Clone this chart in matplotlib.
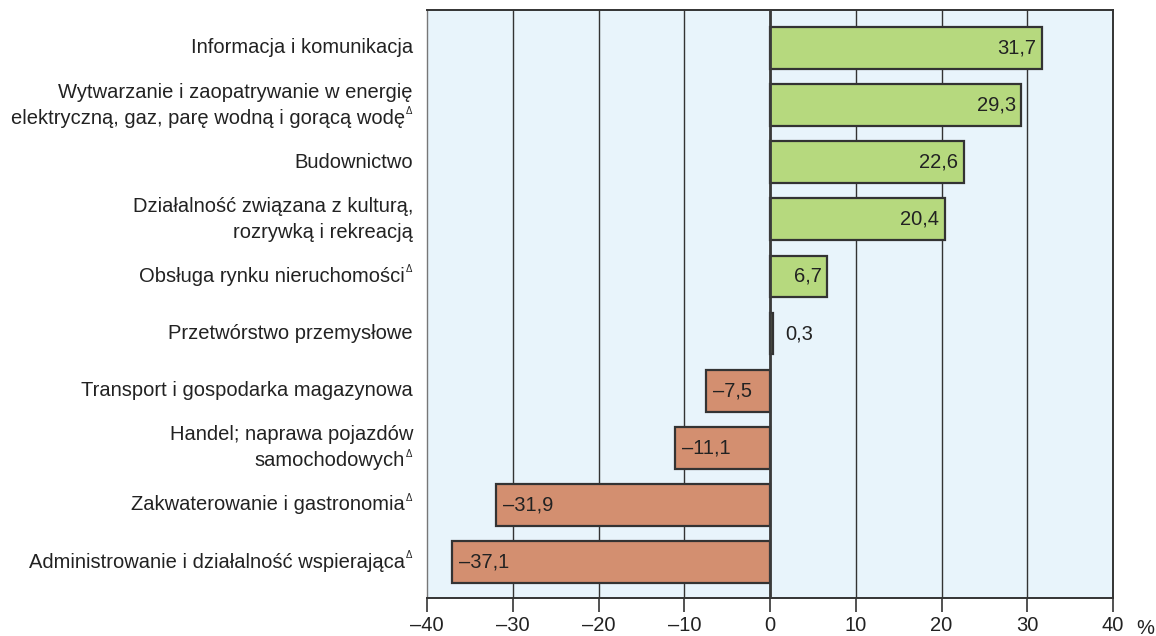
import matplotlib
matplotlib.use("Agg")
import matplotlib.pyplot as plt
from matplotlib.transforms import offset_copy

plt.rcParams['font.family'] = ['Liberation Sans', 'DejaVu Sans']

categories = [
    "Informacja i komunikacja",
    "Wytwarzanie i zaopatrywanie w energię\nelektryczną, gaz, parę wodną i gorącą wodę",
    "Budownictwo",
    "Działalność związana z kulturą,\nrozrywką i rekreacją",
    "Obsługa rynku nieruchomości",
    "Przetwórstwo przemysłowe",
    "Transport i gospodarka magazynowa",
    "Handel; naprawa pojazdów\nsamochodowych",
    "Zakwaterowanie i gastronomia",
    "Administrowanie i działalność wspierająca",
]
flagged = [False, True, False, False, True, False, False, True, True, True]
values = [31.7, 29.3, 22.6, 20.4, 6.7, 0.3, -7.5, -11.1, -31.9, -37.1]
xticks = [-40, -30, -20, -10, 0, 10, 20, 30, 40]
xtick_labels = ["–40", "–30", "–20", "–10", "0", "10", "20", "30", "40"]

green = "#b6d97e"
orange = "#d38f70"
edge = "#333333"
text_color = "#222222"
FS = 14.5

fig = plt.figure(figsize=(11.56, 6.36), dpi=100)
ax = fig.add_axes([427/1156, 1-598/636, (1113-427)/1156, 588/636])
ax.set_facecolor("#e8f4fb")

ypos = list(range(len(values)))
colors = [green if v >= 0 else orange for v in values]
ax.barh(ypos, values, height=0.73, color=colors, edgecolor=edge, linewidth=1.6, zorder=3)

ax.set_xlim(-40, 40)
ax.set_ylim(9.63, -0.665)
ax.set_xticks(xticks)
ax.set_xticklabels(xtick_labels, fontsize=FS, color=text_color)
ax.tick_params(axis='x', direction='out', length=10, width=1.2, color=edge, pad=3)
ax.set_yticks([])
for x in xticks[1:-1]:
    ax.axvline(x, color="#333333", lw=1.0, zorder=1)
ax.axvline(0, color="#3a3a3a", lw=2.0, zorder=4)

for s in ['top', 'right', 'bottom']:
    ax.spines[s].set_color("#333333")
    ax.spines[s].set_linewidth(1.4)
ax.spines['left'].set_color("#777777")
ax.spines['left'].set_linewidth(1.0)

# category labels (one text per line, delta drawn separately)
base = ax.get_yaxis_transform()
px = 72.0 / fig.dpi  # points per pixel
x_right = -14 / 686.0  # axes fraction: right edge at ~413 px
for y, cat, fl in zip(ypos, categories, flagged):
    lines = cat.split("\n")
    n = len(lines)
    for i, line in enumerate(lines):
        dy = (((n - 1) / 2.0) - i) * 26 * px
        last = (i == n - 1)
        dx = -8 * px if (fl and last) else 0
        tr = offset_copy(base, fig=fig, x=dx, y=dy, units='points')
        ax.text(x_right, y, line, transform=tr, ha='right', va='center',
                fontsize=FS, color=text_color)
        if fl and last:
            tr2 = offset_copy(base, fig=fig, x=-7 * px, y=dy + 7 * px, units='points')
            ax.text(x_right, y, "Δ", transform=tr2, ha='left', va='center',
                    fontsize=7, color=text_color)

# value labels
for y, v in zip(ypos, values):
    s = f"{abs(v):.1f}".replace('.', ',')
    if v < 0:
        s = "–" + s
        ax.annotate(s, (v, y), xytext=(5, 0), textcoords='offset points', ha='left', va='center',
                    fontsize=FS, color=text_color, zorder=5)
    elif v < 3:
        ax.annotate(s, (v, y), xytext=(9, 0), textcoords='offset points', ha='left', va='center',
                    fontsize=FS, color=text_color, zorder=5)
    else:
        ax.annotate(s, (v, y), xytext=(-4, 0), textcoords='offset points', ha='right', va='center',
                    fontsize=FS, color=text_color, zorder=5)

fig.text(1145/1156, 1-628/636, "%", ha='center', va='center', fontsize=FS, color=text_color)

fig.savefig("out.png", dpi=100)
